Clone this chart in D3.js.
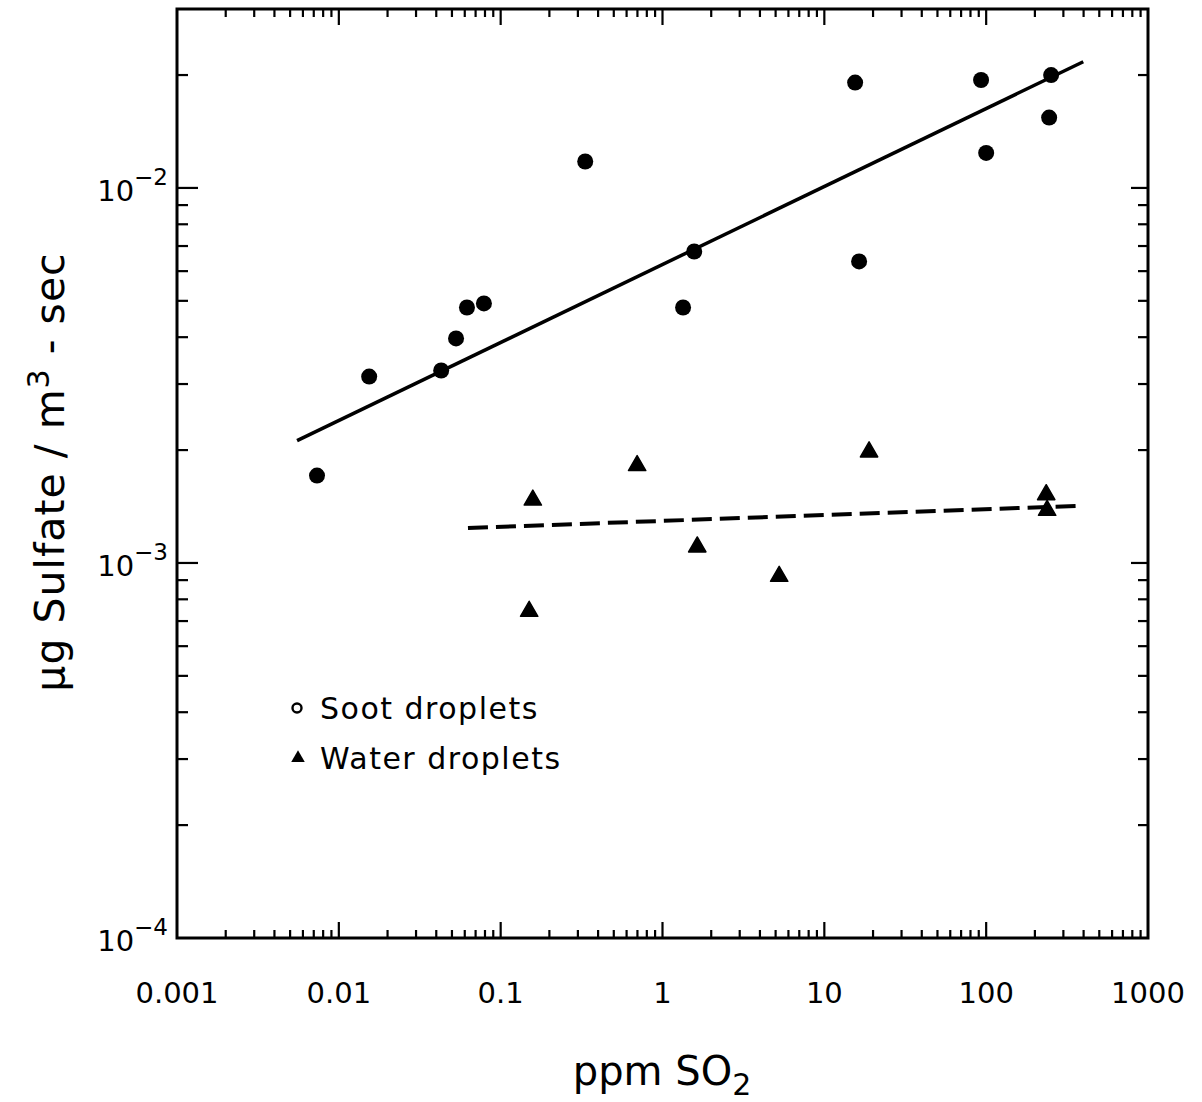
<!DOCTYPE html>
<html>
<head>
<meta charset="utf-8">
<script src="https://cdn.jsdelivr.net/npm/d3@7"></script>
<style>
  body { margin: 0; background: #fff; }
  text { font-family: "DejaVu Sans", sans-serif; fill: #000; }
</style>
</head>
<body>
<div id="chart"></div>
<script>
// soot droplets (filled circles)
const sootX = [0.00733, 0.0154, 0.0429, 0.0530, 0.0619, 0.0788, 0.333, 1.57, 1.34, 15.5, 16.4, 93, 100, 252, 245];
const sootY = [0.00171, 0.00314, 0.00326, 0.00397, 0.00480, 0.00492, 0.01176, 0.00677, 0.00480, 0.0191, 0.00637, 0.0194, 0.0124, 0.0200, 0.0154];

// water droplets (filled triangles)
const waterX = [0.158, 0.697, 0.150, 1.64, 5.26, 18.9, 235, 238];
const waterY = [0.00148, 0.00183, 0.000748, 0.00111, 0.000927, 0.00199, 0.00153, 0.00139];

// fitted lines (end points)
const sootFitX = [0.00552, 398];
const sootFitY = [0.00212, 0.0217];
const waterFitX = [0.0628, 371];
const waterFitY = [0.00124, 0.00142];

const xTickValues = [0.001, 0.01, 0.1, 1, 10, 100, 1000];
const xTickLabels = ["0.001", "0.01", "0.1", "1", "10", "100", "1000"];
const yTickValues = [1e-4, 1e-3, 1e-2];
const yTickExps = ["−4", "−3", "−2"];

const legendLabels = ["Soot droplets", "Water droplets"];

const width = 1202, height = 1102;
const x = d3.scaleLog().domain([0.001, 1000]).range([177, 1148]);
const y = d3.scaleLog().domain([1e-4, 3e-2]).range([938, 9]);

const svg = d3.select("#chart").append("svg")
    .attr("width", width)
    .attr("height", height);

// minor / major tick values
const xMinor = [];
for (let e = -3; e < 3; e++) for (let m = 2; m <= 9; m++) xMinor.push(m * Math.pow(10, e));
const yMinor = [];
for (let e = -4; e < -1; e++) for (let m = 2; m <= 9; m++) {
    const v = m * Math.pow(10, e);
    if (v < 3e-2) yMinor.push(v);
}
const xMajorInner = xTickValues.slice(1, -1);
const yMajorInner = [1e-3, 1e-2];

const ticks = svg.append("g").attr("stroke", "#000").attr("stroke-width", 2.2);
const [x0, x1] = x.range(), [y0, y1] = y.range();

// bottom and top ticks (inward)
ticks.selectAll(".xb").data(xMinor.map(v => [v, 8]).concat(xMajorInner.map(v => [v, 16])))
    .join("line")
    .attr("x1", d => x(d[0])).attr("x2", d => x(d[0]))
    .attr("y1", y0).attr("y2", d => y0 - d[1]);
ticks.selectAll(".xt").data(xMinor.map(v => [v, 8]).concat(xMajorInner.map(v => [v, 16])))
    .join("line")
    .attr("x1", d => x(d[0])).attr("x2", d => x(d[0]))
    .attr("y1", y1).attr("y2", d => y1 + d[1]);
// left and right ticks (inward)
ticks.selectAll(".yl").data(yMinor.map(v => [v, 11]).concat(yMajorInner.map(v => [v, 21])))
    .join("line")
    .attr("y1", d => y(d[0])).attr("y2", d => y(d[0]))
    .attr("x1", x0).attr("x2", d => x0 + d[1]);
ticks.selectAll(".yr").data(yMinor.map(v => [v, 10]).concat(yMajorInner.map(v => [v, 17])))
    .join("line")
    .attr("y1", d => y(d[0])).attr("y2", d => y(d[0]))
    .attr("x1", x1).attr("x2", d => x1 - d[1]);

// frame
svg.append("rect")
    .attr("x", x0).attr("y", y1)
    .attr("width", x1 - x0).attr("height", y0 - y1)
    .attr("fill", "none").attr("stroke", "#000").attr("stroke-width", 3);

// x tick labels
svg.append("g").selectAll("text").data(xTickValues)
    .join("text")
    .attr("x", d => x(d))
    .attr("y", 1003)
    .attr("text-anchor", "middle")
    .attr("font-size", 29)
    .text((d, i) => xTickLabels[i]);

// y tick labels: 10 with superscript exponent
const yl = svg.append("g").selectAll("text").data(yTickValues)
    .join("text")
    .attr("x", 168)
    .attr("y", d => y(d) + 13)
    .attr("text-anchor", "end")
    .attr("font-size", 29);
yl.append("tspan").text("10");
yl.append("tspan").attr("font-size", 23).attr("dy", -16).text((d, i) => yTickExps[i]);

// fitted lines
const line = d3.line().x(d => x(d[0])).y(d => y(d[1]));
svg.append("path")
    .attr("d", line(sootFitX.map((v, i) => [v, sootFitY[i]])))
    .attr("fill", "none").attr("stroke", "#000").attr("stroke-width", 3.5);
svg.append("path")
    .attr("d", line(waterFitX.map((v, i) => [v, waterFitY[i]])))
    .attr("fill", "none").attr("stroke", "#000").attr("stroke-width", 4)
    .attr("stroke-dasharray", "20 8");

// soot points
svg.append("g").selectAll("circle").data(sootX)
    .join("circle")
    .attr("cx", d => x(d))
    .attr("cy", (d, i) => y(sootY[i]))
    .attr("r", 8)
    .attr("fill", "#000");

// water points
const tri = d3.symbol(d3.symbolTriangle, 130);
svg.append("g").selectAll("path").data(waterX)
    .join("path")
    .attr("d", tri)
    .attr("transform", (d, i) => `translate(${x(d)},${y(waterY[i]) + 1})`)
    .attr("fill", "#000")
    .attr("stroke", "#000").attr("stroke-width", 1.5).attr("stroke-linejoin", "round");

// legend
const legend = svg.append("g");
legend.append("circle")
    .attr("cx", 297).attr("cy", 708).attr("r", 4.5)
    .attr("fill", "none").attr("stroke", "#000").attr("stroke-width", 2.4);
legend.append("path")
    .attr("d", d3.symbol(d3.symbolTriangle, 80))
    .attr("transform", "translate(298,758)")
    .attr("fill", "#000");
legend.selectAll("text").data(legendLabels)
    .join("text")
    .attr("x", 320)
    .attr("y", (d, i) => 719 + i * 50)
    .attr("font-size", 30)
    .attr("letter-spacing", 1.5)
    .text(d => d);

// x axis title
const xt = svg.append("text")
    .attr("x", 662).attr("y", 1085)
    .attr("text-anchor", "middle")
    .attr("font-size", 40);
xt.append("tspan").text("ppm SO");
xt.append("tspan").attr("font-size", 30).attr("dy", 10).text("2");

// y axis title
const yt = svg.append("text")
    .attr("transform", "translate(64,472) rotate(-90)")
    .attr("text-anchor", "middle")
    .attr("font-size", 41)
    .attr("letter-spacing", 1);
yt.append("tspan").text("μg Sulfate / m");
yt.append("tspan").attr("font-size", 30).attr("dy", -15).text("3");
yt.append("tspan").attr("dy", 15).text(" - sec");
</script>
</body>
</html>
